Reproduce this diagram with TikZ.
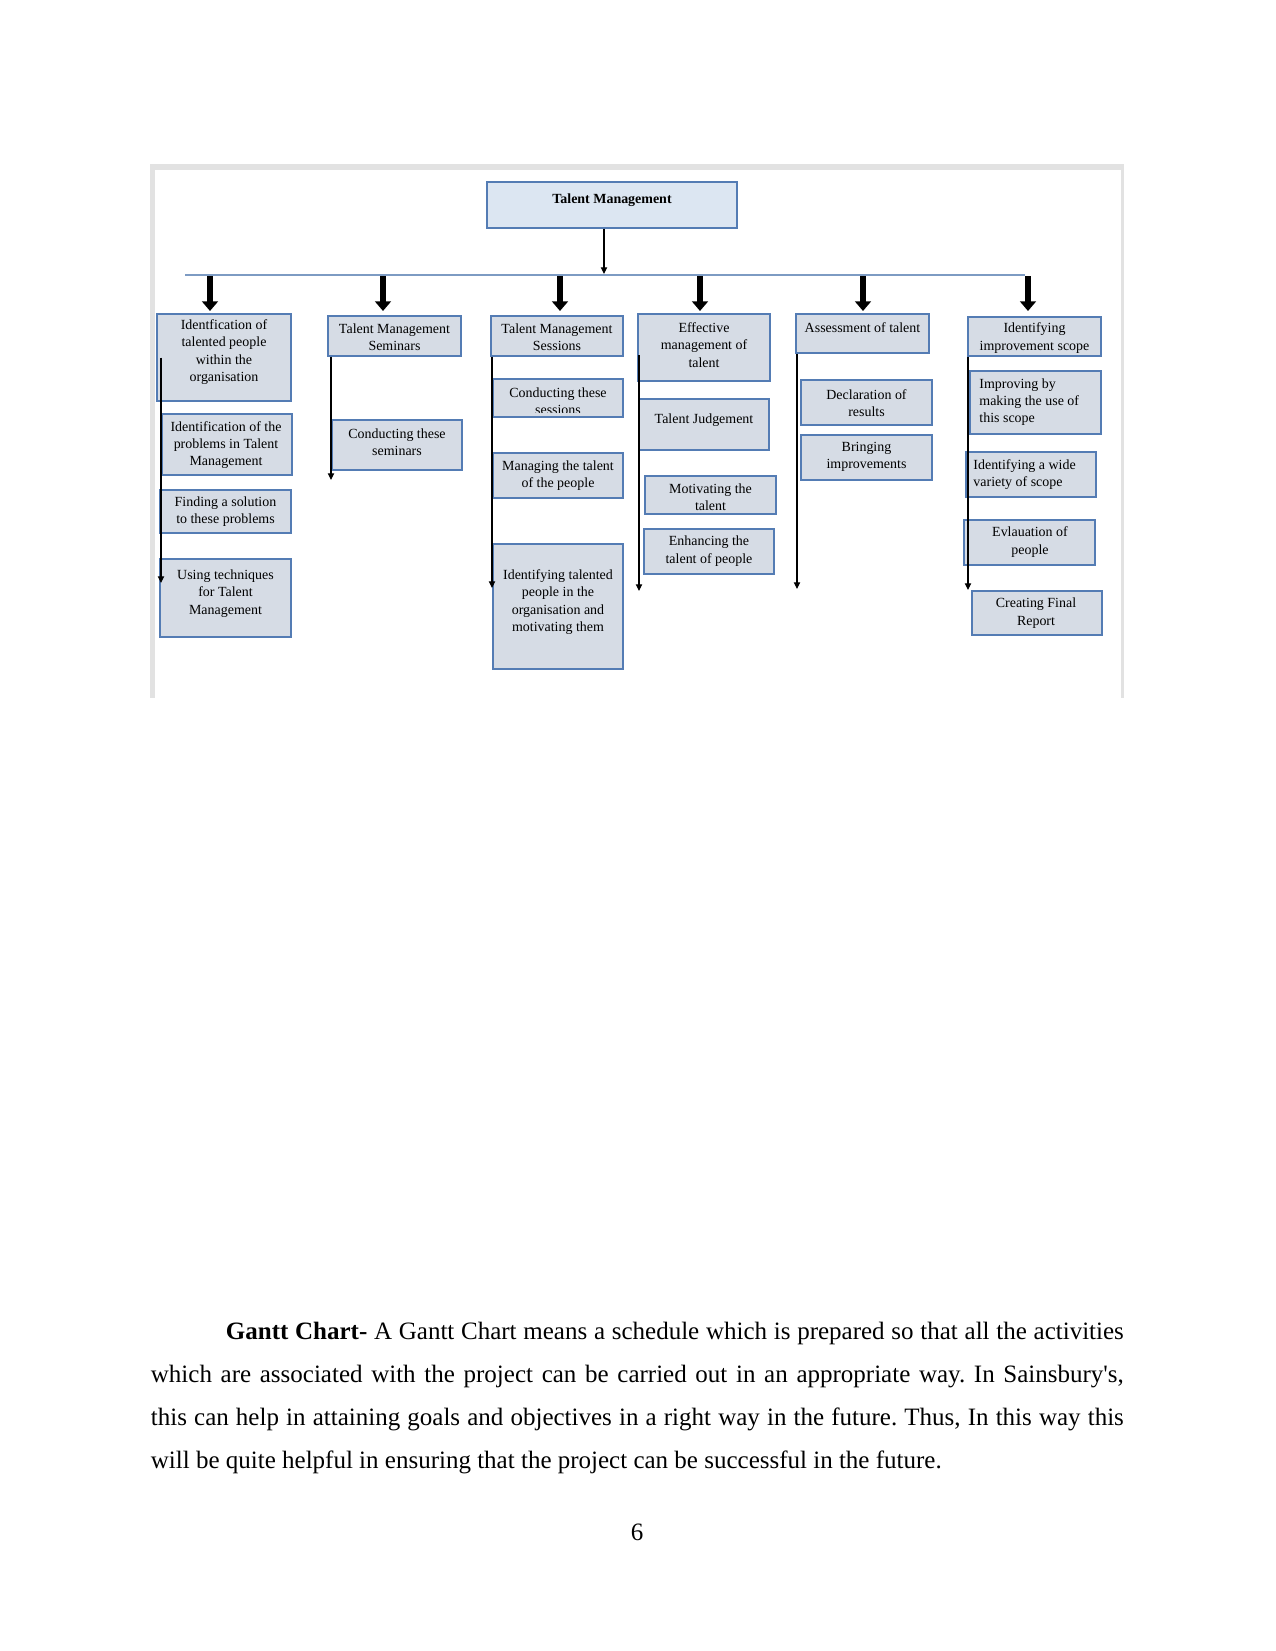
\documentclass[tikz,border=0pt]{standalone}
\usepackage{fontspec}
\setmainfont{Liberation Serif}
\newfontfamily\straightq{Liberation Serif}
\usetikzlibrary{arrows.meta}
\definecolor{bxborder}{RGB}{84,124,180}
\definecolor{bxfill}{RGB}{214,220,229}
\definecolor{topfill}{RGB}{220,230,242}
\definecolor{busblue}{RGB}{125,155,195}
\definecolor{framegray}{RGB}{226,226,226}
\newcommand\tmbox[6][bxfill]{\node[bx, fill=#1, minimum width={(#5-#3)*0.48pt}, minimum height={(#6-#4)*0.48pt}] (#2) at ({(#3+#5)/2},{(#4+#6)/2}) {};}
\frenchspacing
\begin{document}
\begin{tikzpicture}[x=0.48pt,y=-0.48pt,
  bx/.style={draw=bxborder, line width=0.6pt, rectangle, inner sep=0pt},
  tx/.style={font=\fontsize{6.7}{8.3}\selectfont, align=center, inner sep=0pt},
  txl/.style={font=\fontsize{6.7}{8.3}\selectfont, align=left, inner sep=0pt, anchor=west},
  fat/.style={line width=3pt, -{Triangle[width=7.5pt,length=4.6pt]}},
  thinarr/.style={line width=0.5pt, -{Triangle[width=3pt,length=3.2pt]}},
  bus/.style={draw=busblue, line width=0.6pt},
  body/.style={font=\fontsize{12}{14}\selectfont, inner sep=0pt, anchor=base west}]
\useasboundingbox (0,0) rectangle (1275,1651);
% frame
\fill[framegray] (150,164) rectangle (1124,698);
\fill[white] (155,170) rectangle (1121,698);
% column 6 line end
\coordinate (c6e) at (968,590);
% boxes
\tmbox[topfill]{tm}{487}{182}{737}{228}
\tmbox{a1}{157}{314}{291}{401}
\tmbox{a2}{162}{414}{292}{475}
\tmbox{a3}{160}{490}{291}{533}
\tmbox{a4}{160}{559}{291}{637}
\tmbox{b1}{328}{316}{461}{356}
\tmbox{b2}{332}{420}{462}{470}
\tmbox{c1}{491}{316}{623}{356}
\tmbox{c2}{493}{379}{623}{417}
\tmbox{c3}{493}{453}{623}{498}
\tmbox{c4}{493}{544}{623}{669}
\tmbox{d1}{638}{314}{770}{381}
\tmbox{d2}{639}{399}{769}{450}
\tmbox{d3}{645}{476}{776}{514}
\tmbox{d4}{644}{529}{774}{574}
\tmbox{e1}{796}{314}{929}{353}
\tmbox{e2}{801}{380}{932}{425}
\tmbox{e3}{801}{435}{932}{480}
\tmbox{f1}{968}{317}{1101}{356}
\tmbox{f2}{970}{371}{1101}{434}
\tmbox{f3}{966}{452}{1096}{497}
\tmbox{f4}{964}{520}{1095}{565}
\tmbox{f5}{972}{591}{1102}{635}
% texts
\node[tx, font=\fontsize{6.7}{8.3}\selectfont\bfseries] (ttm) at (612,200) {Talent Management};
\node[tx] (ta1) at (224,352) {Identfication of\\talented people\\within the\\organisation};
\node[tx] (ta2) at (226,445) {Identification of the\\problems in Talent\\Management};
\node[tx] (ta3) at (225.5,511.5) {Finding a solution\\to these problems};
\node[tx] (ta4) at (225.5,593.5) {Using techniques\\for Talent\\Management};
\node[tx] (tb1) at (394.5,337.5) {Talent Management\\Seminars};
\node[tx] (tb2) at (397,442) {Conducting these\\seminars};
\node[tx] (tc1) at (557,337.5) {Talent Management\\Sessions};
\begin{scope}
\clip (493,379) rectangle (623,412);
\node[tx] (tc2) at (558,401) {Conducting these\\sessions};
\end{scope}
\node[tx] (tc3) at (558,475.5) {Managing the talent\\of the people};
\node[tx] (tc4) at (558,602) {Identifying talented\\people in the\\organisation and\\motivating them};
\node[tx] (td1) at (704,345) {Effective\\management of\\talent};
\node[tx] (td2) at (704,420) {Talent Judgement};
\begin{scope}
\clip (645,476) rectangle (776,510);
\node[tx] (td3) at (710.5,497.5) {Motivating the\\talent};
\end{scope}
\node[tx] (td4) at (709,551) {Enhancing the\\talent of people};
\node[tx] (te1) at (862.5,328) {Assessment of talent};
\node[tx] (te2) at (866.5,403) {Declaration of\\results};
\node[tx] (te3) at (866.5,457) {Bringing\\improvements};
\begin{scope}
\clip (968,317) rectangle (1101,352);
\node[tx] (tf1) at (1034.5,338) {Identifying\\improvement scope};
\end{scope}
\node[txl] (tf2) at (979,402) {Improving by\\making the use of\\this scope};
\node[txl] (tf3) at (973,474.5) {Identifying a wide\\variety of scope};
\node[tx] (tf4) at (1030,542) {Evlauation of\\people};
\node[tx] (tf5) at (1036,613) {Creating Final\\Report};
% bus
\coordinate (busL) at (185,275);
\coordinate (busR) at (1025,275);
\coordinate (busTop) at (604,274);
\draw[bus] (busL) -- (busR);
\draw[thinarr] (tm.south -| busTop) -- (busTop);
% fat arrows
\foreach \n/\x in {1/210,2/383,3/560,4/700,5/863,6/1028}{
  \coordinate (fs\n) at (\x,276);
  \coordinate (fe\n) at (\x,311);
  \draw[fat] (fs\n) -- (fe\n);
}
% column lines
\coordinate (c1e) at (161,583);
\coordinate (c2e) at (331,480);
\coordinate (c3e) at (492,588);
\coordinate (c4s) at (639,355);
\coordinate (c4e) at (639,591);
\coordinate (c5e) at (797,589);
\draw[thinarr] (c1e |- a1.center) -- (c1e);
\draw[thinarr] (c2e |- b1.south) -- (c2e);
\draw[thinarr] (c3e |- c1.south) -- (c3e);
\draw[thinarr] (c4s) -- (c4e);
\draw[thinarr] (c5e |- e1.south) -- (c5e);
\draw[thinarr] (c6e |- f1.south) -- (c6e);
% body text
\node[body] (l1) at (150.5,1339) {\makebox[467pt][s]{\hspace*{36pt}\textbf{Gantt Chart-} A Gantt Chart means a schedule which is prepared so that all the activities}};
\node[body] (l2) at (150.5,1382) {\makebox[467pt][s]{which are associated with the project can be carried out in an appropriate way. In Sainsbury{\straightq'}s,}};
\node[body] (l3) at (150.5,1425) {\makebox[467pt][s]{this can help in attaining goals and objectives in a right way in the future. Thus, In this way this}};
\node[body] (l4) at (150.5,1468) {will be quite helpful in ensuring that the project can be successful in the future.};
\node[font=\fontsize{12}{14}\selectfont, inner sep=0pt, anchor=base] (pg) at (637,1540) {6};
\end{tikzpicture}
\end{document}
